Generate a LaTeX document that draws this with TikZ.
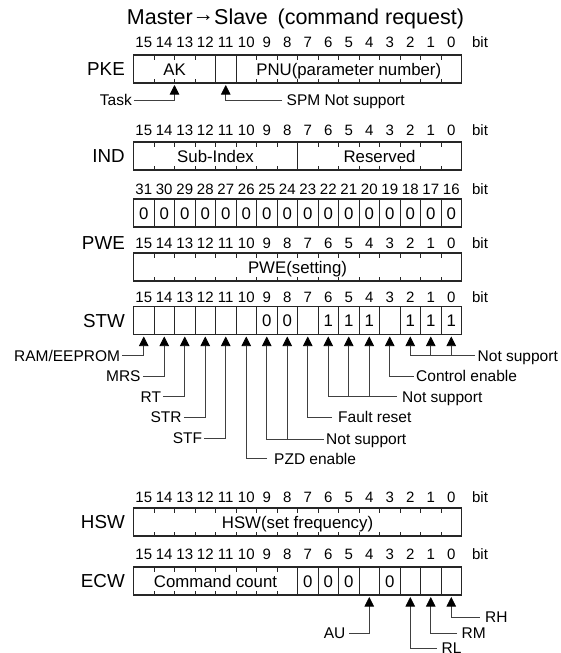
\documentclass[tikz,border=0pt]{standalone}
\usepackage{fontspec}
\setmainfont{Liberation Sans}
\usetikzlibrary{arrows.meta}
\newcommand\bitrow[3]{% prefix, y, offset
  \foreach \b in {0,...,15}{\pgfmathtruncatemacro\n{\b+#3}%
    \node[bitnum] (#1\b) at ({133.5+(15.5-\b)*20.5},#2) {\n};}%
  \node[bitnum] (#1bit) at (480,#2) {bit};}
\newcommand\regbox[1]{\draw[box] (133.5,#1) rectangle (461.5,#1+28);}
\newcommand\regticks[2]{\foreach \i in {#2}{\draw[tick] ({133.5+\i*20.5},#1) -- ++(0,4.5) ({133.5+\i*20.5},#1+28) -- ++(0,-4.5);}}
\newcommand\regdivs[2]{\foreach \i in {#2}{\draw[divl] ({133.5+\i*20.5},#1) -- ++(0,28);}}
\begin{document}
\begin{tikzpicture}[x=1pt,y=-1pt,
  box/.style={draw=black!85, line width=1.1pt},
  tick/.style={draw=black!85, line width=1pt},
  divl/.style={draw=black!85, line width=0.95pt},
  bitnum/.style={font=\fontsize{15}{15}\selectfont, inner sep=0pt, text height=10.7pt, text depth=0pt},
  rowlbl/.style={font=\fontsize{18.8}{18.8}\selectfont, inner sep=0pt, text height=13.5pt, text depth=0pt, anchor=east},
  intext/.style={font=\fontsize{16.8}{16.8}\selectfont, inner sep=0pt, text height=12pt, text depth=0pt},
  lbl/.style={font=\fontsize{15.5}{15.5}\selectfont, inner ysep=0pt, inner xsep=2pt, text height=11.1pt, text depth=0pt},
  titletext/.style={font=\fontsize{21.5}{21.5}\selectfont, inner sep=0pt, text height=15.4pt, text depth=0pt},
  conn/.style={draw=black!75, line width=0.75pt, -{Triangle[width=9.5pt,length=9.5pt,color=black]}}
]
\useasboundingbox (0,0) rectangle (561,653);
\clip (0,0) rectangle (561,653);

% title
\node[titletext] (title) at (295.5,17) {Master\raisebox{0.17em}{→}Slave\hspace{0.45em}(command request)};

% ---------- PKE ----------
\bitrow{pb}{42}{0}
\node[rowlbl] (pke) at (125,69) {PKE};
\regbox{55}
\regticks{55}{1,2,3,6,7,8,9,10,11,12,13,14,15}
\regdivs{55}{4,5}
\node[intext] (ak) at (174.5,69) {AK};
\node[intext] (pnu) at (348.75,69) {PNU(parameter number)};
\coordinate (ptask) at (174.5,85);
\coordinate (pspm) at (225.75,85);
\node[lbl, anchor=east] (task) at (134,100) {Task};
\node[lbl, anchor=west, inner xsep=4.5pt] (spm) at (282,100) {SPM Not support};
\draw[conn] (task.east) -| (ptask);
\draw[conn] (spm.west) -| (pspm);

% ---------- IND ----------
\bitrow{ib}{130}{0}
\node[rowlbl] (ind) at (125,156) {IND};
\regbox{142}
\regticks{142}{1,2,3,4,5,6,7,9,10,11,12,13,14,15}
\regdivs{142}{8}
\node[intext] (subidx) at (215.5,156) {Sub-Index};
\node[intext] (resv) at (379.5,156) {Reserved};

% ---------- PWE high ----------
\bitrow{zb}{189}{16}
\regbox{199}
\regdivs{199}{1,...,15}
\foreach \b in {0,...,15}{\node[intext] (z\b) at ({133.5+(15.5-\b)*20.5},213) {0};}

% ---------- PWE low ----------
\bitrow{wb}{243}{0}
\node[rowlbl] (pwe) at (125,243) {PWE};
\regbox{253}
\regticks{253}{1,...,15}
\node[intext] (pwes) at (297.5,267) {PWE(setting)};

% ---------- STW ----------
\bitrow{sb}{297}{0}
\node[rowlbl] (stw) at (125,320.5) {STW};
\regbox{306.5}
\regdivs{306.5}{1,...,15}
\foreach \b/\v in {9/0,8/0,6/1,5/1,4/1,2/1,1/1,0/1}{\node[intext] (sv\b) at ({133.5+(15.5-\b)*20.5},320.5) {\v};}
\foreach \b in {0,...,15}{\coordinate (s\b) at ({133.5+(15.5-\b)*20.5},336.5);}

\node[lbl, anchor=east] (ram) at (122.25,355.5) {RAM/EEPROM};
\node[lbl, anchor=east] (mrs) at (142.75,376.1) {MRS};
\node[lbl, anchor=east] (rt)  at (163.25,396.7) {RT};
\node[lbl, anchor=east] (str) at (183.75,417.3) {STR};
\node[lbl, anchor=east] (stf) at (204.25,437.9) {STF};
\draw[conn] (ram.east) -| (s15);
\draw[conn] (mrs.east) -| (s14);
\draw[conn] (rt.east)  -| (s13);
\draw[conn] (str.east) -| (s12);
\draw[conn] (stf.east) -| (s11);

\node[lbl, anchor=west, inner xsep=7pt] (pzd) at (267,458.5) {PZD enable};
\node[lbl, anchor=west, inner xsep=2.5pt] (nsa) at (323.5,439) {Not support};
\node[lbl, anchor=west, inner xsep=6pt] (fr) at (332,417.3) {Fault reset};
\node[lbl, anchor=west, inner xsep=5pt] (nsb) at (397,396.7) {Not support};
\node[lbl, anchor=west, inner xsep=2.5pt] (ce) at (413.5,376.1) {Control enable};
\node[lbl, anchor=west, inner xsep=2.5pt] (nsc) at (475,355.5) {Not support};
\draw[conn] (pzd.west) -| (s10);
\draw[conn] (nsa.west) -| (s9);
\draw[conn] (nsa.west -| s8) -- (s8);
\draw[conn] (fr.west) -| (s7);
\draw[conn] (nsb.west) -| (s6);
\draw[conn] (nsb.west -| s5) -- (s5);
\draw[conn] (nsb.west -| s4) -- (s4);
\draw[conn] (ce.west) -| (s3);
\draw[conn] (nsc.west) -| (s2);
\draw[conn] (nsc.west -| s1) -- (s1);
\draw[conn] (nsc.west -| s0) -- (s0);

% ---------- HSW ----------
\bitrow{hb}{497}{0}
\node[rowlbl] (hsw) at (125,522) {HSW};
\regbox{508}
\regticks{508}{1,...,15}
\node[intext] (hswt) at (297.5,522) {HSW(set frequency)};

% ---------- ECW ----------
\bitrow{eb}{554}{0}
\node[rowlbl] (ecw) at (125,581) {ECW};
\regbox{567}
\regticks{567}{1,...,7}
\regdivs{567}{8,...,15}
\node[intext] (cc) at (215.5,581) {Command count};
\foreach \b in {7,6,5,3}{\node[intext] (ev\b) at ({133.5+(15.5-\b)*20.5},581) {0};}
\foreach \b in {0,...,4}{\coordinate (e\b) at ({133.5+(15.5-\b)*20.5},597);}
\node[lbl, anchor=east, inner xsep=3.5pt] (au) at (349,633.3) {AU};
\node[lbl, anchor=west, inner xsep=4.5pt] (rl) at (437,648) {RL};
\node[lbl, anchor=west, inner xsep=4.5pt] (rm) at (457,633.3) {RM};
\node[lbl, anchor=west, inner xsep=5.5pt] (rh) at (479.5,617.3) {RH};
\draw[conn] (au.east) -| (e4);
\draw[conn] (rl.west) -| (e2);
\draw[conn] (rm.west) -| (e1);
\draw[conn] (rh.west) -| (e0);
\end{tikzpicture}
\end{document}
